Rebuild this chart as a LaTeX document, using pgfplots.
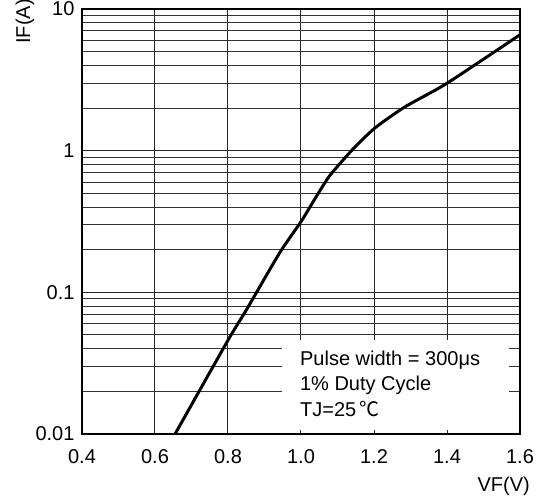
\documentclass[border=0pt]{standalone}
\usepackage{pgfplots}
\pgfplotsset{compat=1.18}
\usepackage{fontspec}
\setmainfont{Liberation Sans}
\newfontfamily\cjk{Noto Sans CJK SC}
\newcommand\f{\fontsize{20}{24}\selectfont}

\begin{document}
\begin{tikzpicture}
\begin{axis}[
    at={(0,0)}, anchor=south west,
    scale only axis,
    width=438pt, height=425pt,
    ymode=log,
    xmin=0.4, xmax=1.6,
    ymin=0.01, ymax=10,
    xtick={0.4,0.6,0.8,1.0,1.2,1.4,1.6},
    xticklabels={0.4,0.6,0.8,1.0,1.2,1.4,1.6},
    ytick={0.01,0.1,1,10},
    yticklabels={0.01,0.1,1,10},
    xmajorgrids, ymajorgrids, yminorgrids,
    major grid style={black!85, line width=1pt},
    minor grid style={black!80, line width=1pt},
    tick style={draw=none},
    axis line style={black, line width=1.2pt},
    every tick label/.append style={font=\f},
    xticklabel style={yshift=-12pt},
    yticklabel style={xshift=-4pt},
    clip=false,
]
\fill[white] (axis cs:0.948,0.0107) rectangle (axis cs:1.570,0.0464);
\addplot[black, line width=3pt, smooth, tension=0.35] coordinates {
    (0.655,0.010) (0.801,0.0464) (0.851,0.0757) (0.942,0.191)
    (1.002,0.321) (1.038,0.457) (1.079,0.668) (1.143,1.03)
    (1.203,1.45) (1.285,2.04) (1.399,2.98) (1.600,6.58)
};
\node[anchor=base west, font=\f, inner sep=0] at (axis cs:0.997,0.0303) {Pulse width = 300μs};
\node[anchor=base west, font=\f, inner sep=0] at (axis cs:0.997,0.0202) {1\% Duty Cycle};
\node[anchor=base west, font=\f, inner sep=0] at (axis cs:0.997,0.0132) {TJ=25\,{\cjk ℃}};
\end{axis}
\node[font=\f, rotate=90, inner sep=0] at (-57pt,412.5pt) {IF(A)};
\node[font=\f, anchor=east, inner sep=0] at (448pt,-52pt) {VF(V)};
\pgfresetboundingbox
\path (-82pt,-64pt) rectangle (457pt,434pt);
\end{tikzpicture}
\end{document}
